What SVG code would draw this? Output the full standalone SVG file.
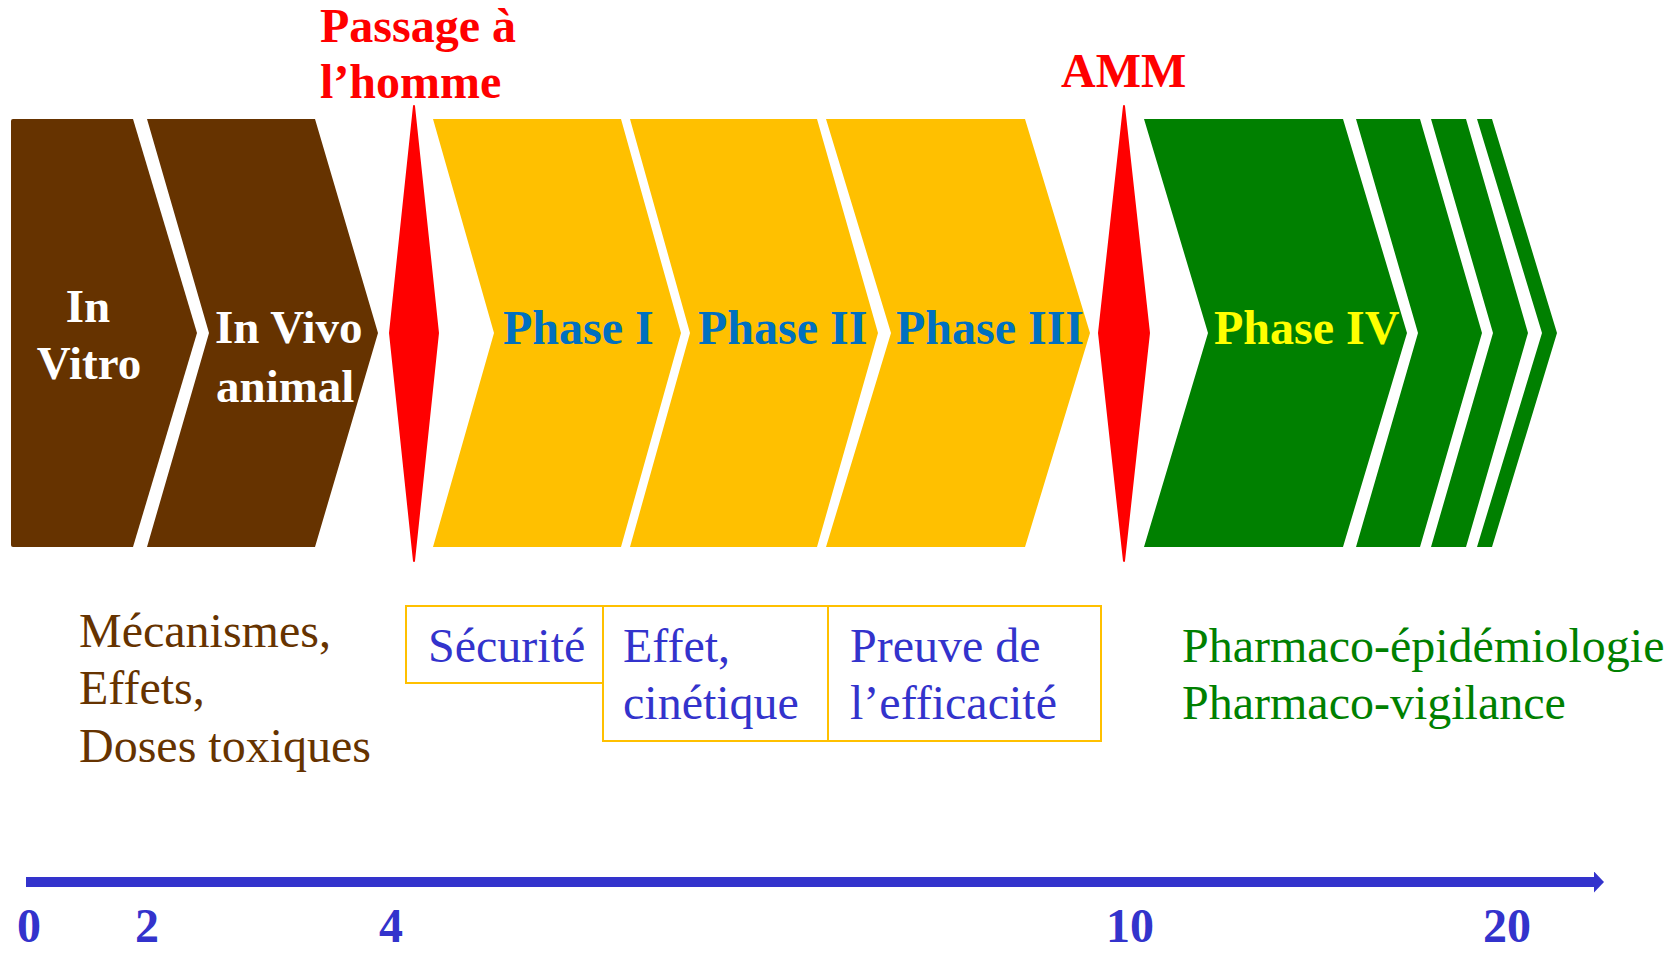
<svg xmlns="http://www.w3.org/2000/svg" width="1680" height="953" viewBox="0 0 1680 953">
  <style>
    .brown { fill: #663300; }
    .gold { fill: #FFC000; }
    .green { fill: #008000; }
    .milestone { fill: #FF0000; stroke: #FF0000; stroke-width: 2; stroke-linejoin: round; }
    .box { fill: none; stroke: #FFC000; stroke-width: 2; }
    text { font-family: "Liberation Serif", "Times New Roman", serif; }
    .stage { font-weight: bold; font-size: 47px; fill: #FFFFFF; }
    .phase { font-weight: bold; font-size: 48px; fill: #0070C0; }
    .phase4 { font-weight: bold; font-size: 48px; fill: #FFFF00; }
    .mark { font-weight: bold; font-size: 48px; fill: #FF0000; }
    .note { font-size: 48px; }
    .tick { font-weight: bold; font-size: 48px; fill: #3333CC; }
  </style>
  <defs>
    <marker id="axisHead" viewBox="0 0 10 21" refX="0" refY="10.5" markerWidth="10" markerHeight="21" markerUnits="userSpaceOnUse" orient="auto">
      <path d="M0,0 L10,10.5 L0,21 Z" fill="#3333CC"/>
    </marker>
  </defs>

  <!-- preclinical stages -->
  <g id="in-vitro">
    <path class="brown" d="M13,119 L133,119 L197,333 L133,547 L13,547 Q11,547 11,545 L11,121 Q11,119 13,119 Z"/>
    <text class="stage" x="88" y="322" text-anchor="middle">In</text>
    <text class="stage" x="89" y="379" text-anchor="middle">Vitro</text>
  </g>
  <g id="in-vivo">
    <polygon class="brown" points="147,119 315,119 378,333 315,547 147,547 209,333"/>
    <text class="stage" x="215" y="343">In Vivo</text>
    <text class="stage" x="216" y="402">animal</text>
  </g>

  <!-- first-in-human milestone -->
  <g id="passage-homme">
    <polygon class="milestone" points="414,106 438,333 414,561 390,333"/>
    <text class="mark" x="320" y="42">Passage à</text>
    <text class="mark" x="320" y="98">l’homme</text>
  </g>

  <!-- clinical phases -->
  <g id="phase-1">
    <polygon class="gold" points="433,119 621,119 681,333 621,547 433,547 494,333"/>
    <text class="phase" x="503" y="344">Phase I</text>
  </g>
  <g id="phase-2">
    <polygon class="gold" points="630,119 817,119 878,333 817,547 630,547 690,333"/>
    <text class="phase" x="698" y="344">Phase II</text>
  </g>
  <g id="phase-3">
    <polygon class="gold" points="826,119 1025,119 1090,333 1025,547 826,547 891,333"/>
    <text class="phase" x="896" y="344">Phase III</text>
  </g>

  <!-- marketing authorisation milestone -->
  <g id="amm">
    <polygon class="milestone" points="1124,106 1149,333 1124,561 1099,333"/>
    <text class="mark" x="1061" y="87">AMM</text>
  </g>

  <!-- post-marketing -->
  <g id="phase-4">
    <polygon class="green" points="1144,119 1343,119 1407,333 1343,547 1144,547 1208,333"/>
    <polygon class="green" points="1356,119 1420,119 1482,333 1420,547 1356,547 1418,333"/>
    <polygon class="green" points="1431,119 1466,119 1528,333 1466,547 1431,547 1493,333"/>
    <polygon class="green" points="1477,119 1492,119 1557,333 1492,547 1477,547 1542,333"/>
    <text class="phase4" x="1214" y="344">Phase IV</text>
  </g>

  <!-- objectives -->
  <g id="preclinical-goals">
    <text class="note" fill="#663300" x="79" y="647">Mécanismes,</text>
    <text class="note" fill="#663300" x="79" y="704">Effets,</text>
    <text class="note" fill="#663300" x="79" y="762">Doses toxiques</text>
  </g>
  <g id="goal-securite">
    <rect class="box" x="406" y="606" width="197" height="77"/>
    <text class="note" fill="#3333CC" x="428" y="662">Sécurité</text>
  </g>
  <g id="goal-effet">
    <rect class="box" x="603" y="606" width="225" height="135"/>
    <text class="note" fill="#3333CC" x="623" y="662">Effet,</text>
    <text class="note" fill="#3333CC" x="623" y="719">cinétique</text>
  </g>
  <g id="goal-efficacite">
    <rect class="box" x="828" y="606" width="273" height="135"/>
    <text class="note" fill="#3333CC" x="850" y="662">Preuve de</text>
    <text class="note" fill="#3333CC" x="850" y="719">l’efficacité</text>
  </g>
  <g id="postmarketing-goals">
    <text class="note" fill="#008000" x="1182" y="662">Pharmaco-épidémiologie</text>
    <text class="note" fill="#008000" x="1182" y="719">Pharmaco-vigilance</text>
  </g>

  <!-- time axis (years) -->
  <g id="connectors">
    <line x1="26" y1="882" x2="1594" y2="882" stroke="#3333CC" stroke-width="10" marker-end="url(#axisHead)"/>
  </g>
  <g id="axis-labels">
    <text class="tick" x="17" y="942">0</text>
    <text class="tick" x="135" y="942">2</text>
    <text class="tick" x="379" y="942">4</text>
    <text class="tick" x="1106" y="942">10</text>
    <text class="tick" x="1483" y="942">20</text>
  </g>
</svg>
